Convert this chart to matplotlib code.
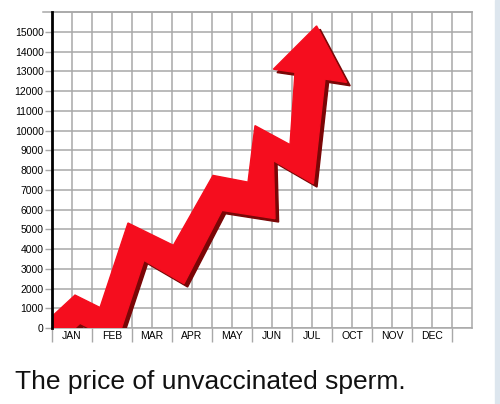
import matplotlib.pyplot as plt
import numpy as np

# month labels (the original skips AUG/SEP)
months = ["JAN", "FEB", "MAR", "APR", "MAY", "JUN", "JUL", "OCT", "NOV", "DEC"]
yticks = list(range(0, 16000, 1000))

# arrow outline, x in half-month grid units, y in price
arrow_x = [-0.5, 1.15, 2.4, 3.8, 6.07, 8.05, 9.8, 10.15, 11.9, 12.15, 11.07,
           13.23, 14.73, 13.65, 13.07, 11.07, 11.15, 8.5, 6.6, 4.6, 3.25, 1.4, -0.5]
arrow_y = [120, 1670, 1040, 5320, 4190, 7730, 7390, 10250, 9290, 12950, 13110,
           15300, 12440, 12610, 7310, 8480, 5540, 5960, 2250, 3430, -693, 240, -1546]

fig = plt.figure(figsize=(5, 4.04), dpi=100)
ax = fig.add_axes([0.104, 0.188, 0.84, 0.782])
ax.set_xlim(0, 21)
ax.set_ylim(0, 16000)

grid_col = "#a8a8a8"

# shadow then arrow
ax.fill(np.array(arrow_x) + 0.18, np.array(arrow_y) - 170, color="#7a0606", zorder=3)
ax.fill(arrow_x, arrow_y, color="#f50d1e", zorder=4)

# y axis
ax.set_yticks(yticks)
ax.set_yticklabels([str(v) for v in yticks], fontsize=7.5, family="Liberation Sans")
ax.tick_params(axis="y", length=5, width=1, color=grid_col, pad=1)

# x axis: separators at even positions, month labels at odd ones
ax.set_xticks(range(0, 21, 2))
ax.set_xticklabels([])
ax.set_xticks(range(1, 20, 2), minor=True)
ax.set_xticklabels(months, minor=True, fontsize=7.5, family="Liberation Sans")
ax.tick_params(axis="x", which="major", length=10, width=1, color=grid_col)
ax.tick_params(axis="x", which="minor", length=0, pad=2)

ax.grid(True, which="both", color=grid_col, linewidth=1.1, zorder=1)
ax.set_axisbelow(True)

for s in ["top", "right", "bottom"]:
    ax.spines[s].set_color(grid_col)
    ax.spines[s].set_linewidth(1.1)
ax.spines["left"].set_color("black")
ax.spines["left"].set_linewidth(2)
ax.spines["left"].set_zorder(5)
ax.plot([-0.45, 21], [16000, 16000], color=grid_col, lw=1.1, clip_on=False, zorder=1)

fig.text(0.03, 0.037, "The price of unvaccinated sperm.", fontsize=19,
         family="Liberation Sans", color="#111111")

# screenshot edge strip
fig.patches.append(plt.Rectangle((0.99, 0), 0.01, 1, transform=fig.transFigure,
                                 color="#dde6ee", zorder=0))

fig.savefig("out.png", dpi=100)
